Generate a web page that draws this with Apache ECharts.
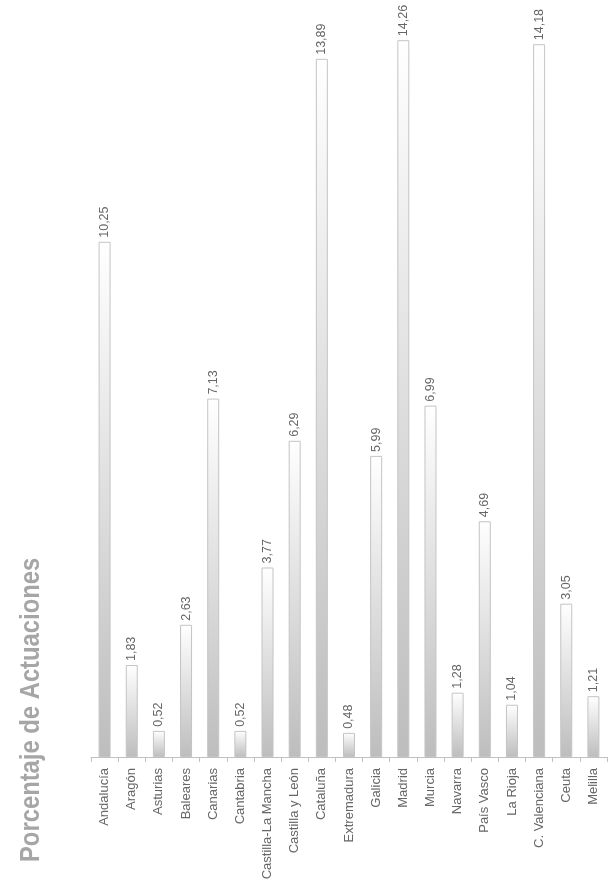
<!DOCTYPE html>
<html><head><meta charset="utf-8">
<script src="https://cdn.jsdelivr.net/npm/echarts@6/dist/echarts.min.js"></script>
<style>html,body{margin:0;padding:0;background:#fff}#c{width:612px;height:888px}</style>
</head><body><div id="c"></div>
<script>
const categories = ["Andalucía","Aragón","Asturias","Baleares","Canarias","Cantabria","Castilla-La Mancha","Castilla y León","Cataluña","Extremadura","Galicia","Madrid","Murcia","Navarra","País Vasco","La Rioja","C. Valenciana","Ceuta","Melilla"];
const values = [10.25,1.83,0.52,2.63,7.13,0.52,3.77,6.29,13.89,0.48,5.99,14.26,6.99,1.28,4.69,1.04,14.18,3.05,1.21];
const titleText = "Porcentaje de Actuaciones";

const chart = echarts.init(document.getElementById('c'), null, {renderer:'canvas'});
chart.setOption({
  animation:false,
  grid:{left:91, right:5, top:3, bottom:131},
  xAxis:{type:'category', data:categories,
    axisLine:{lineStyle:{color:'#c0c0c0', width:1}},
    axisTick:{show:true, length:5, lineStyle:{color:'#c0c0c0'}},
    axisLabel:{rotate:90, fontFamily:'Liberation Sans, Arial', fontSize:13, color:'#666', margin:11, interval:0}
  },
  yAxis:{type:'value', min:0, max:15, show:false, splitLine:{show:false}},
  series:[{type:'bar', data:values, barWidth:12,
    itemStyle:{
      color:new echarts.graphic.LinearGradient(0,0,0,1,[{offset:0,color:'#ffffff'},{offset:1,color:'#bdbdbd'}]),
      borderColor:'#c4c4c4', borderWidth:1
    },
    label:{show:true, position:'top', rotate:90, align:'left', verticalAlign:'middle', distance:4,
      fontFamily:'Liberation Sans, Arial', fontSize:12.5, color:'#666',
      formatter:p=>p.value.toFixed(2).replace('.',',')}
  }],
  graphic:[{type:'text', x:31, y:862, rotation:Math.PI/2, scaleX:0.85, scaleY:1,
    style:{text:titleText, font:'bold 28px "Liberation Sans", Arial', fill:'#a6a6a6', textAlign:'left', textVerticalAlign:'middle'}}]
});
</script></body></html>
